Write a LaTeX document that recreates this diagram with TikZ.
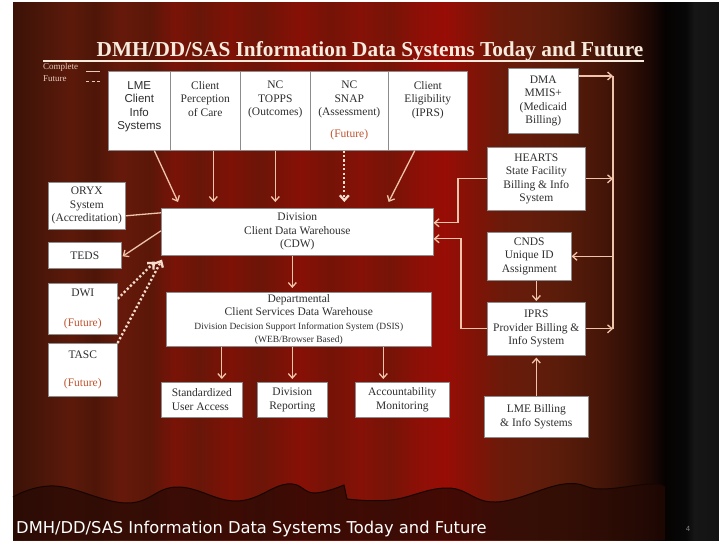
\documentclass[tikz,border=0pt]{standalone}
\usepackage{fontspec}
\setmainfont{Liberation Serif}
\newfontfamily\arialfont{Liberation Sans}
\newfontfamily\footfont{DejaVu Sans}
\usetikzlibrary{arrows.meta,calc}

\definecolor{boxtext}{HTML}{2E2E2E}
\definecolor{boxedge}{HTML}{8C8C8C}
\definecolor{fut}{HTML}{C0532E}
\definecolor{link}{HTML}{F0C4AA}
\definecolor{dotlink}{HTML}{F6DCCD}
\definecolor{titlecol}{HTML}{F7EBDD}
\definecolor{legendcol}{HTML}{E6CBBD}
\definecolor{hemshade}{HTML}{240904}
\definecolor{hemline}{HTML}{160503}

\newcommand\bxfont{\fontsize{11.5}{13.5}\selectfont}
\newcommand\smallbx{\fontsize{9.5}{11.5}\selectfont}

% stage curtain: vertical folds of red and brown, then the dark side panel
\pgfdeclarehorizontalshading{curtain}{100bp}{%
  rgb(0bp)=(0.235,0.071,0.027);
  rgb(25.00bp)=(0.235,0.071,0.027);
  rgb(26.91bp)=(0.290,0.086,0.035);
  rgb(29.04bp)=(0.360,0.100,0.040);
  rgb(30.81bp)=(0.306,0.086,0.031);
  rgb(32.58bp)=(0.400,0.100,0.040);
  rgb(34.70bp)=(0.353,0.090,0.031);
  rgb(36.47bp)=(0.478,0.075,0.031);
  rgb(38.24bp)=(0.408,0.086,0.031);
  rgb(40.37bp)=(0.494,0.070,0.027);
  rgb(42.49bp)=(0.424,0.082,0.031);
  rgb(45.33bp)=(0.533,0.063,0.024);
  rgb(47.45bp)=(0.455,0.075,0.027);
  rgb(49.58bp)=(0.525,0.067,0.027);
  rgb(51.70bp)=(0.463,0.078,0.031);
  rgb(53.82bp)=(0.557,0.059,0.024);
  rgb(55.59bp)=(0.596,0.051,0.020);
  rgb(57.36bp)=(0.518,0.071,0.027);
  rgb(59.49bp)=(0.424,0.102,0.039);
  rgb(61.61bp)=(0.392,0.110,0.043);
  rgb(63.74bp)=(0.353,0.110,0.039);
  rgb(66.57bp)=(0.275,0.086,0.031);
  rgb(68.70bp)=(0.190,0.058,0.022);
  rgb(70.25bp)=(0.100,0.028,0.014);
  rgb(71.17bp)=(0.024,0.008,0.008);
  rgb(72.66bp)=(0.030,0.030,0.030);
  rgb(73.23bp)=(0.086,0.086,0.086);
  rgb(75.00bp)=(0.075,0.075,0.075);
  rgb(100bp)=(0.075,0.075,0.075)}

\begin{document}
\begin{tikzpicture}[x=1pt,y=-1pt,
  box/.style={draw=boxedge, fill=white, line width=0.6pt, inner sep=0pt,
    anchor=north west, align=center, text=boxtext, font=\bxfont},
  toptxt/.style={anchor=north, inner sep=0pt, align=center, text=boxtext, font=\bxfont},
  link/.style={draw=link, line width=1.3pt},
  arr/.style={link, -{Straight Barb[length=4.5pt,width=8pt]}},
  dotarr/.style={draw=dotlink, line width=2.3pt, dash pattern=on 2.2pt off 2.2pt,
    -{Straight Barb[length=5pt,width=9pt]}},
  legend/.style={text=legendcol, inner sep=0pt, font=\fontsize{9}{10}\selectfont}
]
\useasboundingbox (0,0) rectangle (719,540);
\fill[white] (0,0) rectangle (719,540);
\shade[shading=curtain] (13,3) rectangle (719,540);

% darker hem of the curtain
\fill[hemshade, opacity=0.72] (13,540) -- plot[smooth, tension=0.7] coordinates {
  (13,497) (55,486) (127,503) (177,487) (237,501) (287,484) (314,493) (344,485)}
  -- plot[smooth, tension=0.7] coordinates {
  (347,499) (391,500) (448,488) (496,502) (564,484) (601,489) (650,484) (665,487)}
  -- (665,540) -- cycle;
\draw[hemline, line width=1pt] plot[smooth, tension=0.7] coordinates {
  (13,497) (55,486) (127,503) (177,487) (237,501) (287,484) (314,493) (344,485)}
  -- plot[smooth, tension=0.7] coordinates {
  (347,499) (391,500) (448,488) (496,502) (564,484) (601,489) (650,484) (665,487)};

% heading, rule and legend
\node[anchor=base, inner sep=0pt, text=titlecol, font=\fontsize{21.3}{25}\selectfont\bfseries]
  (title) at (370,57) {DMH/DD/SAS Information Data Systems Today and Future};
\draw[titlecol, line width=1.8pt] (43,61) -- (644,61);
\node[legend, anchor=base west] (legC) at (43,70) {Complete};
\node[legend, anchor=base west] (legF) at (43,82) {Future};
\draw[legendcol, line width=0.9pt] (86,71) -- (100,71);
\draw[legendcol, line width=0.9pt, dash pattern=on 3pt off 2.5pt] (86,81) -- (102,81);

% top row of sources
\node[box, minimum width=62pt, minimum height=79pt] (lme) at (108,71) {};
\node[box, minimum width=70pt, minimum height=79pt] (perc) at (170,71) {};
\node[box, minimum width=70pt, minimum height=79pt] (topps) at (240,71) {};
\node[box, minimum width=78pt, minimum height=79pt] (snap) at (310,71) {};
\node[box, minimum width=79pt, minimum height=79pt] (elig) at (388,71) {};
\node[toptxt, font=\arialfont\bxfont] (lmeT) at ($(lme.north)+(0,10)$) {LME\\Client\\Info\\Systems};
\node[toptxt] (percT) at ($(perc.north)+(0,10)$) {Client\\Perception\\of Care};
\node[toptxt] (toppsT) at ($(topps.north)+(0,10)$) {NC\\TOPPS\\(Outcomes)};
\node[toptxt] (snapT) at ($(snap.north)+(0,10)$) {NC\\SNAP\\(Assessment)\\[8pt]\textcolor{fut}{(Future)}};
\node[toptxt] (eligT) at ($(elig.north)+(0,10)$) {Client\\Eligibility\\(IPRS)};

% right column
\node[box, minimum width=70pt, minimum height=65pt] (dma) at (508,68) {DMA\\MMIS+\\(Medicaid\\Billing)};
\node[box, minimum width=98pt, minimum height=63pt] (hearts) at (487,147) {HEARTS\\State Facility\\Billing \& Info\\System};
\node[box, minimum width=84pt, minimum height=48pt] (cnds) at (487,232) {CNDS\\Unique ID\\Assignment};
\node[box, minimum width=98pt, minimum height=53pt] (iprs) at (487,302) {IPRS\\Provider Billing \&\\Info System};
\node[box, minimum width=104pt, minimum height=41pt] (lmeb) at (484,396) {LME Billing\\\& Info Systems};

% left column
\node[box, minimum width=77pt, minimum height=47pt] (oryx) at (48,182) {ORYX\\System\\(Accreditation)};
\node[box, minimum width=73pt, minimum height=26pt] (teds) at (48,242) {TEDS};
\node[box, minimum width=69pt, minimum height=51pt] (dwi) at (48,283) {DWI\\[17pt]\textcolor{fut}{(Future)}};
\node[box, minimum width=69pt, minimum height=53pt] (tasc) at (48,343) {TASC\\[14pt]\textcolor{fut}{(Future)}};

% warehouses
\node[box, minimum width=272pt, minimum height=47pt] (cdw) at (161,208) {Division\\Client Data Warehouse\\(CDW)};
\node[box, minimum width=265pt, minimum height=54pt] (dept) at (166,292)
  {Departmental\\Client Services Data Warehouse\\{\smallbx Division Decision Support Information System (DSIS)}\\{\smallbx (WEB/Browser Based)}};

% outputs
\node[box, align=left, minimum width=81pt, minimum height=35pt] (std) at (161,382) {Standardized\\User Access};
\node[box, minimum width=70pt, minimum height=35pt] (rep) at (257,382) {Division\\Reporting};
\node[box, minimum width=94pt, minimum height=35pt] (acc) at (355,382) {Accountability\\Monitoring};

% feeds into the client data warehouse
\coordinate (percIn) at ($(perc.south)+(8,0)$);
\coordinate (snapOut) at ($(snap.south)+(-5,0)$);
\draw[arr] ($(lme.south)+(15,0)$) -- ($(cdw.north west)+(17,-6)$);
\draw[arr, shorten >=6pt] (percIn) -- (percIn |- cdw.north);
\draw[arr, shorten >=6pt] (topps.south) -- (topps.south |- cdw.north);
\draw[dotarr, shorten >=6pt] (snapOut) -- (snapOut |- cdw.north);
\draw[arr] ($(elig.south)+(-13,0)$) -- ($(cdw.north east)+(-45,-6)$);

\draw[link] ($(oryx.east)+(0,10)$) -- ($(cdw.west)+(0,-19)$);
\draw[arr] ($(cdw.west)+(0,-1)$) -- ($(teds.east)+(1,1)$);
\draw[dotarr] ($(dwi.east)+(0,-10)$) -- ($(cdw.south west)+(-6,6)$);
\draw[dotarr] (tasc.north east) -- ($(cdw.south west)+(1,4)$);

% billing systems bus
\coordinate (bus) at (613,0);
\coordinate (dmaOut) at ($(dma.north east)+(0,8)$);
\draw[link] (dmaOut -| bus) -- (iprs.east -| bus);
\draw[arr] (dmaOut) -- (dmaOut -| bus);
\draw[arr] (hearts.east) -- (hearts.east -| bus);
\draw[arr] (iprs.east) -- (iprs.east -| bus);
\draw[arr] (cnds.east -| bus) -- (cnds.east);
\draw[arr, shorten >=1pt] (cnds.south -| iprs.north) -- (iprs.north);
\draw[arr, shorten >=2pt] (lmeb.north) -- (lmeb.north |- iprs.south);

\coordinate (jogA) at (458,0);
\coordinate (jogB) at (461,0);
\coordinate (cdwInA) at ($(cdw.east)+(0,-9)$);
\coordinate (cdwInB) at ($(cdw.east)+(0,7)$);
\draw[arr] (hearts.west) -- (hearts.west -| jogA) -- (jogA |- cdwInA) -- (cdwInA);
\draw[arr] (iprs.west) -- (iprs.west -| jogB) -- (jogB |- cdwInB) -- (cdwInB);

% downstream
\coordinate (cdwOut) at ($(cdw.south)+(-5,0)$);
\coordinate (stdIn) at ($(std.north)+(20,0)$);
\coordinate (accIn) at ($(acc.north)+(-19,0)$);
\draw[arr, shorten >=4pt] (cdwOut) -- (cdwOut |- dept.north);
\draw[arr, shorten >=3pt] (stdIn |- dept.south) -- (stdIn);
\draw[arr, shorten >=3pt] (rep.north |- dept.south) -- (rep.north);
\draw[arr, shorten >=3pt] (accIn |- dept.south) -- (accIn);

% footer
\node[anchor=base west, inner sep=0pt, text=white, font=\footfont\fontsize{16.3}{18}\selectfont]
  (footer) at (16,533) {DMH/DD/SAS Information Data Systems Today and Future};
\node[anchor=base, inner sep=0pt, text=gray, font=\footfont\fontsize{7}{8}\selectfont]
  (pagenum) at (688,531) {4};
\end{tikzpicture}
\end{document}
